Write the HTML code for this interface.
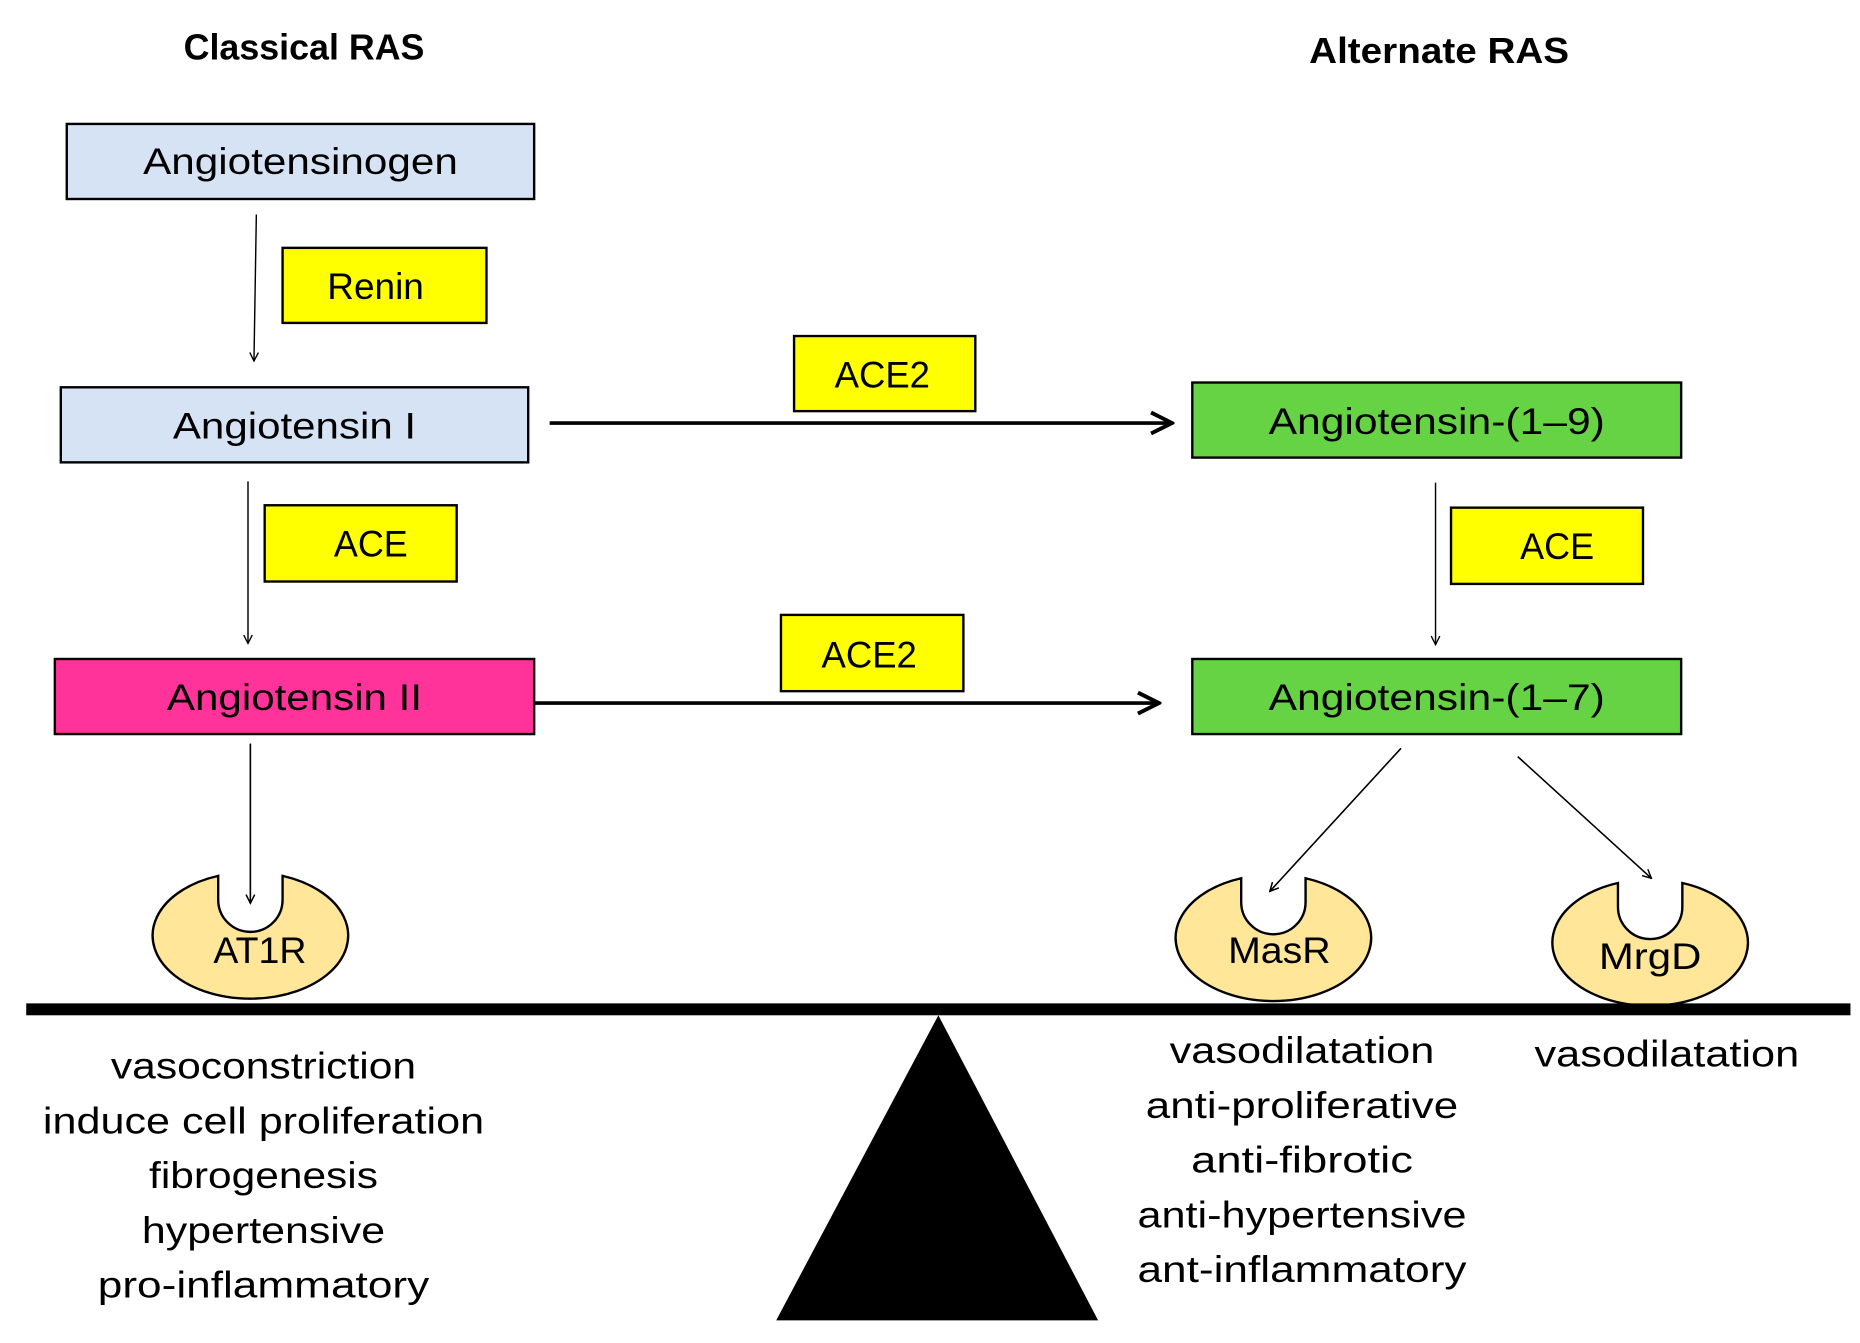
<!DOCTYPE html>
<html><head><meta charset="utf-8"><style>
html,body{margin:0;padding:0;background:#fff;}
svg{display:block;}
text{font-family:"Liberation Sans",sans-serif;fill:#000;}
</style></head><body>
<svg width="1860" height="1343" viewBox="0 0 1560 1127" preserveAspectRatio="none" xmlns="http://www.w3.org/2000/svg">
<defs>
<marker id="a" viewBox="0 0 20 20" refX="18" refY="10" markerWidth="9" markerHeight="9" markerUnits="userSpaceOnUse" orient="auto"><path d="M2 2 L18 10 L2 18" fill="none" stroke="#000" stroke-width="2.5"/></marker>
<marker id="b" viewBox="0 0 20 20" refX="18" refY="10" markerWidth="22" markerHeight="22" markerUnits="userSpaceOnUse" orient="auto"><path d="M2 2 L18 10 L2 18" fill="none" stroke="#000" stroke-width="3"/></marker>
</defs>
<g font-weight="bold" font-size="30" text-anchor="middle">
<text x="255" y="50" textLength="202" lengthAdjust="spacingAndGlyphs">Classical RAS</text>
<text x="1207" y="53" textLength="218" lengthAdjust="spacingAndGlyphs">Alternate RAS</text>
</g>
<g stroke="#000" stroke-width="2">
<rect x="56" y="104" width="392" height="63" fill="#D6E3F5"/>
<rect x="237" y="208" width="171" height="63" fill="#FFFF00"/>
<rect x="51" y="325" width="392" height="63" fill="#D6E3F5"/>
<rect x="666" y="282" width="152" height="63" fill="#FFFF00"/>
<rect x="1000" y="321" width="410" height="63" fill="#66D344"/>
<rect x="1217" y="426" width="161" height="64" fill="#FFFF00"/>
<rect x="222" y="424" width="161" height="64" fill="#FFFF00"/>
<rect x="46" y="553" width="402" height="63" fill="#FF3399"/>
<rect x="655" y="516" width="153" height="64" fill="#FFFF00"/>
<rect x="1000" y="553" width="410" height="63" fill="#66D344"/>
</g>
<g font-size="31" text-anchor="middle">
<text x="252" y="146" textLength="264" lengthAdjust="spacingAndGlyphs">Angiotensinogen</text>
<text x="315" y="251">Renin</text>
<text x="247" y="368" textLength="204" lengthAdjust="spacingAndGlyphs">Angiotensin I</text>
<text x="740" y="325" textLength="80" lengthAdjust="spacingAndGlyphs">ACE2</text>
<text x="1205" y="364" textLength="282" lengthAdjust="spacingAndGlyphs">Angiotensin-(1–9)</text>
<text x="1306" y="469" textLength="62" lengthAdjust="spacingAndGlyphs">ACE</text>
<text x="311" y="467" textLength="62" lengthAdjust="spacingAndGlyphs">ACE</text>
<text x="247" y="596" textLength="214" lengthAdjust="spacingAndGlyphs">Angiotensin II</text>
<text x="729" y="560" textLength="80" lengthAdjust="spacingAndGlyphs">ACE2</text>
<text x="1205" y="596" textLength="282" lengthAdjust="spacingAndGlyphs">Angiotensin-(1–7)</text>
</g>
<g stroke="#000" fill="none">
<line x1="215" y1="180" x2="213" y2="303" stroke-width="1.2" marker-end="url(#a)"/>
<line x1="208" y1="404" x2="208" y2="540" stroke-width="1.2" marker-end="url(#a)"/>
<line x1="1204" y1="405" x2="1204" y2="541" stroke-width="1.2" marker-end="url(#a)"/>
<line x1="210" y1="624" x2="210" y2="758" stroke-width="1.2" marker-end="url(#a)"/>
<line x1="1175" y1="628" x2="1065" y2="748" stroke-width="1.2" marker-end="url(#a)"/>
<line x1="1273" y1="635" x2="1385" y2="737" stroke-width="1.2" marker-end="url(#a)"/>
<line x1="461" y1="355" x2="983" y2="355" stroke-width="3" marker-end="url(#b)"/>
<line x1="448" y1="590" x2="972" y2="590" stroke-width="3" marker-end="url(#b)"/>
</g>
<g fill="#FFE699" stroke="#000" stroke-width="2">
<path d="M183 735 L183 755 A27 27 0 0 0 237 755 L237 735 A82 53 0 1 1 183 735 Z"/>
<path d="M1041 737 L1041 757 A27 27 0 0 0 1095 757 L1095 737 A82 53 0 1 1 1041 737 Z"/>
<path d="M1357 741 L1357 761 A27 27 0 0 0 1411 761 L1411 741 A82 53 0 1 1 1357 741 Z"/>
</g>
<line x1="210" y1="624" x2="210" y2="758" stroke="#000" stroke-width="1.2" marker-end="url(#a)"/>
<line x1="1175" y1="628" x2="1065" y2="748" stroke="#000" stroke-width="1.2" marker-end="url(#a)"/>
<line x1="1273" y1="635" x2="1385" y2="737" stroke="#000" stroke-width="1.2" marker-end="url(#a)"/>
<g font-size="31" text-anchor="middle">
<text x="218" y="808" textLength="78" lengthAdjust="spacingAndGlyphs">AT1R</text>
<text x="1073" y="808" textLength="86" lengthAdjust="spacingAndGlyphs">MasR</text>
<text x="1384" y="813" textLength="86" lengthAdjust="spacingAndGlyphs">MrgD</text>
</g>
<rect x="22" y="842" width="1530" height="10" fill="#000"/>
<polygon points="787,852 651,1108 921,1108" fill="#000"/>
<g font-size="31" text-anchor="middle">
<text x="221" y="905" textLength="256" lengthAdjust="spacingAndGlyphs">vasoconstriction</text>
<text x="221" y="951" textLength="370" lengthAdjust="spacingAndGlyphs">induce cell proliferation</text>
<text x="221" y="997" textLength="192" lengthAdjust="spacingAndGlyphs">fibrogenesis</text>
<text x="221" y="1043" textLength="204" lengthAdjust="spacingAndGlyphs">hypertensive</text>
<text x="221" y="1089" textLength="278" lengthAdjust="spacingAndGlyphs">pro-inflammatory</text>
<text x="1092" y="892" textLength="222" lengthAdjust="spacingAndGlyphs">vasodilatation</text>
<text x="1092" y="938" textLength="262" lengthAdjust="spacingAndGlyphs">anti-proliferative</text>
<text x="1092" y="984" textLength="186" lengthAdjust="spacingAndGlyphs">anti-fibrotic</text>
<text x="1092" y="1030" textLength="276" lengthAdjust="spacingAndGlyphs">anti-hypertensive</text>
<text x="1092" y="1076" textLength="276" lengthAdjust="spacingAndGlyphs">ant-inflammatory</text>
<text x="1398" y="895" textLength="222" lengthAdjust="spacingAndGlyphs">vasodilatation</text>
</g>
</svg>
</body></html>
